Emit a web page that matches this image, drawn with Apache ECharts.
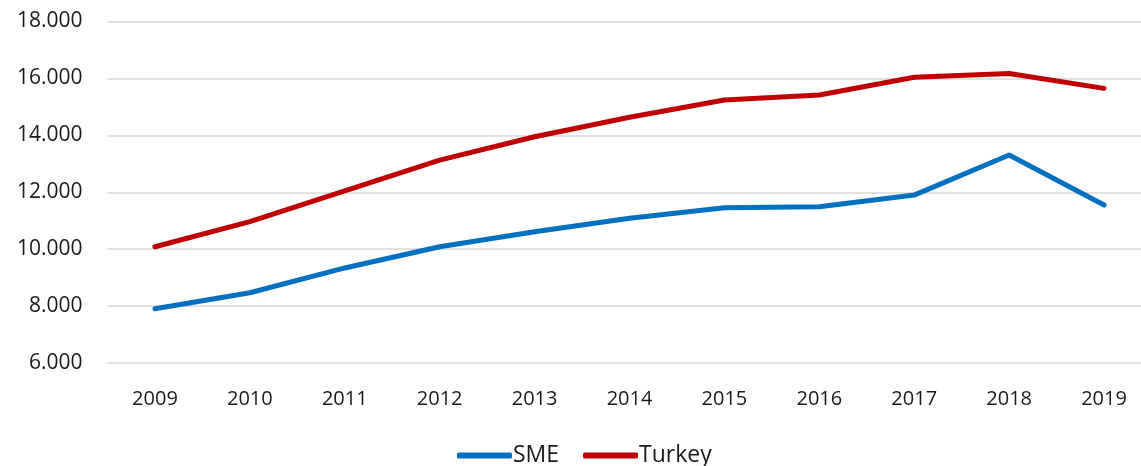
<!DOCTYPE html>
<html>
<head>
<meta charset="utf-8">
<script src="https://cdn.jsdelivr.net/npm/echarts@6/dist/echarts.min.js"></script>
<style>
  html, body { margin: 0; padding: 0; background: #fff; }
  #main { width: 1141px; height: 466px; }
</style>
</head>
<body>
<div id="main"></div>
<script>
var years = ['2009', '2010', '2011', '2012', '2013', '2014', '2015', '2016', '2017', '2018', '2019'];
var sme = [7905, 8470, 9340, 10085, 10610, 11085, 11455, 11490, 11900, 13310, 11550];
var turkey = [10085, 10965, 12050, 13130, 13950, 14635, 15240, 15415, 16040, 16175, 15650];

var chartDom = document.getElementById('main');
var myChart = echarts.init(chartDom);
var option;

var fontFam = '"Open Sans", sans-serif';

option = {
    animation: false,
    color: ['#0070C0', '#C00000'],
    grid: {
        left: 107.5,
        right: -10.5,
        top: 21.5,
        bottom: 103,
        outerBoundsMode: 'none'
    },
    legend: {
        left: 452,
        top: 439,
        itemWidth: 55,
        itemHeight: 6,
        itemGap: 24,
        icon: 'roundRect',
        textStyle: {
            fontFamily: fontFam,
            fontSize: 23,
            color: '#1a1a1a',
            padding: [0, 0, 0, -4]
        },
        data: ['SME', 'Turkey']
    },
    xAxis: {
        type: 'category',
        data: years,
        boundaryGap: true,
        axisLine: { show: false },
        axisTick: { show: false },
        axisLabel: {
            margin: 26,
            fontFamily: fontFam,
            fontSize: 20,
            color: '#1a1a1a'
        }
    },
    yAxis: {
        type: 'value',
        min: 6000,
        max: 18000,
        interval: 2000,
        axisLine: { show: false },
        axisTick: { show: false },
        axisLabel: {
            margin: 25,
            fontFamily: fontFam,
            fontSize: 21,
            color: '#1a1a1a',
            formatter: function (v) {
                return String(v).replace(/\B(?=(\d{3})+(?!\d))/g, '.');
            }
        },
        splitLine: {
            lineStyle: { color: '#d9d9d9', width: 1.5 }
        }
    },
    series: [
        {
            name: 'SME',
            type: 'line',
            data: sme,
            symbol: 'none',
            lineStyle: { width: 5, cap: 'round', join: 'round' }
        },
        {
            name: 'Turkey',
            type: 'line',
            data: turkey,
            symbol: 'none',
            lineStyle: { width: 5, cap: 'round', join: 'round' }
        }
    ]
};

option && myChart.setOption(option);
</script>
</body>
</html>
